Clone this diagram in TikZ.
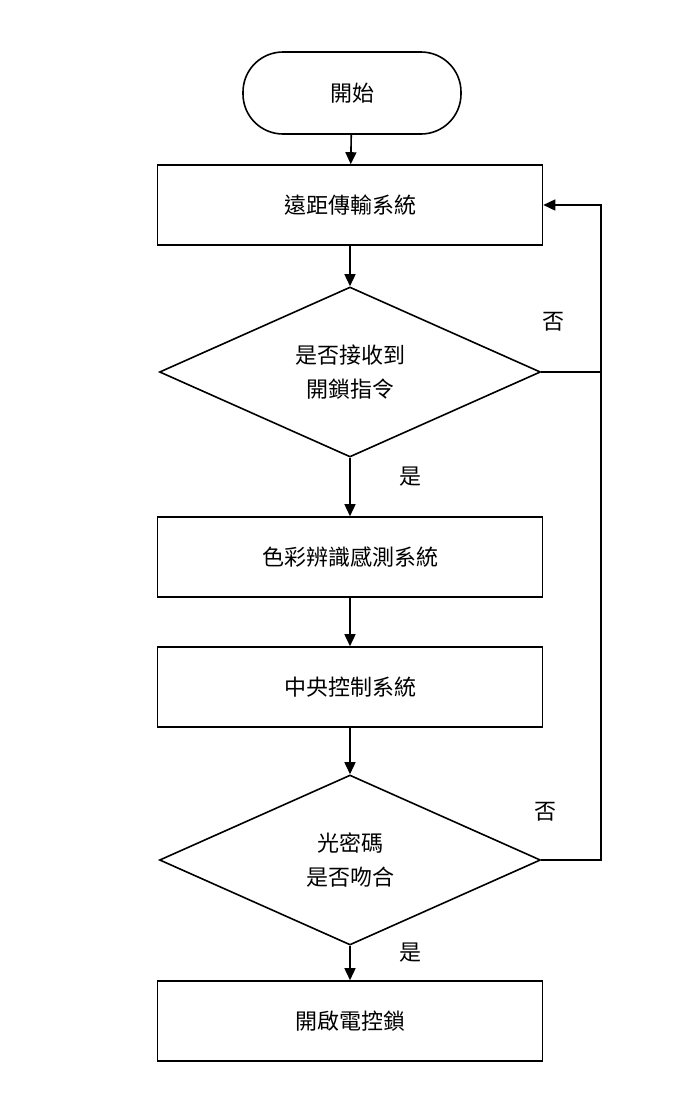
\documentclass[tikz,border=0pt]{standalone}
\usepackage{fontspec}
\newfontfamily\cjk{Noto Sans CJK TC}
\usetikzlibrary{shapes.geometric,arrows.meta}

\tikzset{
  box/.style={draw,line width=1.6pt,minimum width=385pt,minimum height=80pt,font=\cjk\fontsize{22}{28}\selectfont},
  term/.style={draw,line width=1.6pt,rounded corners=40pt,minimum width=218pt,minimum height=82pt,font=\cjk\fontsize{22}{28}\selectfont},
  dec/.style={draw,line width=1.6pt,diamond,aspect=2.3,minimum width=381pt,minimum height=170pt,inner sep=0pt,align=center,font=\cjk\fontsize{22}{34}\selectfont},
  lab/.style={font=\cjk\fontsize{22}{28}\selectfont},
  flow/.style={line width=1.6pt,-{Triangle[length=12pt,width=11pt]}}
}

\begin{document}
\begin{tikzpicture}[x=1pt,y=-1pt]
  \useasboundingbox (0,0) rectangle (700,1120);

  \node[term] (start) at (352,93) {開始};
  \node[box] (remote) at (350,205) {遠距傳輸系統};
  \node[dec] (recv) at (350,372) {是否接收到\\開鎖指令};
  \node[box] (color) at (350,557) {色彩辨識感測系統};
  \node[box] (cpu) at (350,687) {中央控制系統};
  \node[dec] (match) at (350,860) {光密碼\\是否吻合};
  \node[box] (lock) at (350,1021) {開啟電控鎖};

  \coordinate (c1) at (601,372);
  \coordinate (c2) at (601,860);
  \coordinate (c3) at (601,205);

  \draw[flow] (start) -- (remote);
  \draw[flow] (remote) -- (recv);
  \draw[flow] (recv) -- (color);
  \draw[flow] (color) -- (cpu);
  \draw[flow] (cpu) -- (match);
  \draw[flow] (match) -- (lock);

  \draw[line width=1.6pt] (recv.east) -- (c1);
  \draw[flow] (match.east) -- (c2) -- (c3) -- (remote.east);

  \node[lab] (no1) at (553,322) {否};
  \node[lab] (no2) at (545,812) {否};
  \node[lab] (yes1) at (410,477) {是};
  \node[lab] (yes2) at (410,953) {是};
\end{tikzpicture}
\end{document}
